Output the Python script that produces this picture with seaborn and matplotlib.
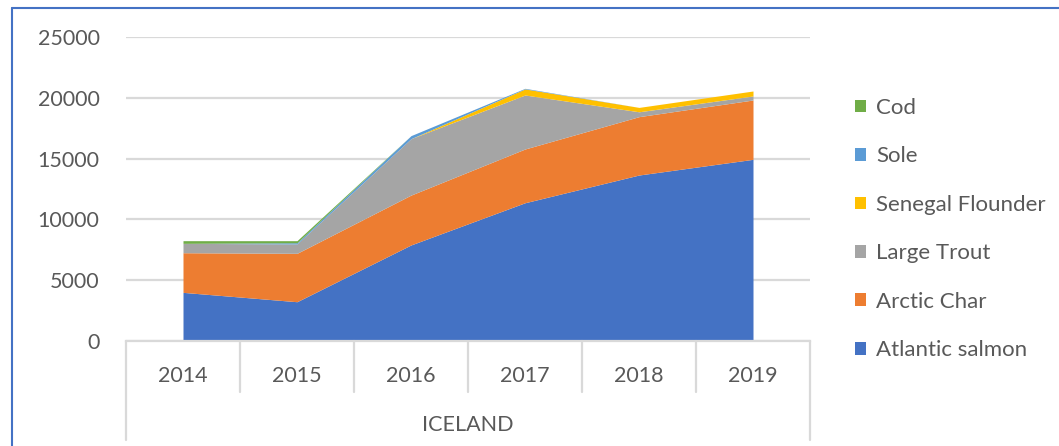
import numpy as np
import pandas as pd
import seaborn as sns
import matplotlib.pyplot as plt
from matplotlib.lines import Line2D
import matplotlib.transforms as mtransforms

# values
years = ["2014", "2015", "2016", "2017", "2018", "2019"]
atlantic_salmon = [4000, 3230, 7900, 11370, 13650, 14940]
arctic_char = [3260, 3980, 4100, 4420, 4800, 4880]
large_trout = [770, 770, 4640, 4440, 400, 330]
senegal_flounder = [0, 0, 0, 500, 360, 410]
sole = [0, 100, 250, 50, 0, 0]
cod = [220, 170, 0, 0, 0, 0]

series = ["Atlantic salmon", "Arctic Char", "Large Trout", "Senegal Flounder", "Sole", "Cod"]
colors = ["#4472C4", "#ED7D31", "#A5A5A5", "#FFC000", "#5B9BD5", "#70AD47"]

df = pd.DataFrame({
    "Atlantic salmon": atlantic_salmon,
    "Arctic Char": arctic_char,
    "Large Trout": large_trout,
    "Senegal Flounder": senegal_flounder,
    "Sole": sole,
    "Cod": cod,
}, index=years)

sns.set_style("white")
plt.rcParams["font.family"] = ["Lato", "DejaVu Sans"]
text_color = "#595959"
grid_color = "#D9D9D9"
fsize = 15.5

W, H = 1059, 446
fig = plt.figure(figsize=(W / 100, H / 100), dpi=100)
ax = fig.add_axes([126 / W, (H - 341) / H, (810 - 126) / W, (341 - 37) / H])

x = np.arange(len(years))
ax.stackplot(x, [df[s].values for s in series], colors=colors, labels=series,
             linewidth=0)

ax.set_xlim(-0.5, len(years) - 0.5)
ax.set_ylim(0, 25000)
ax.set_yticks(np.arange(0, 25001, 5000))
ax.yaxis.grid(True, color=grid_color, linewidth=1.6)
ax.set_axisbelow(True)
ax.set_xticks(x)
ax.set_xticklabels(years)
ax.tick_params(axis="both", length=0, labelsize=fsize, colors=text_color)
ax.tick_params(axis="y", pad=19)
ax.tick_params(axis="x", pad=18)
for side in ["top", "right", "left"]:
    ax.spines[side].set_visible(False)
ax.spines["bottom"].set_color(grid_color)
ax.spines["bottom"].set_linewidth(1.6)

# category separators below the axis (Excel multi-level axis)
trans = mtransforms.blended_transform_factory(ax.transData, ax.transAxes)
ax_h = 341 - 37
for i, xs in enumerate(np.arange(-0.5, len(years), 1.0)):
    outer = i == 0 or i == len(years)
    y_end = -(440 - 341) / ax_h if outer else -(392 - 341) / ax_h
    ax.add_line(Line2D([xs, xs], [0, y_end], transform=trans, color=grid_color,
                       linewidth=1.6, clip_on=False))
ax.text((len(years) - 1) / 2, -(425 - 341) / ax_h, "ICELAND", transform=trans,
        ha="center", va="center", fontsize=fsize, color=text_color)

handles, labels = ax.get_legend_handles_labels()
leg = fig.legend(handles[::-1], labels[::-1], loc="upper left",
                 bbox_to_anchor=(846 / W, 1 - 89 / H), frameon=False,
                 fontsize=16, labelcolor=text_color, handlelength=0.5,
                 handleheight=0.5, handletextpad=0.45, labelspacing=1.28,
                 borderaxespad=0)

# chart border (blue frame at top-left)
fig.add_artist(Line2D([12 / W, 12 / W], [0, 1 - 8 / H], color="#4472C4", linewidth=1.5))
fig.add_artist(Line2D([12 / W, 1], [1 - 8 / H, 1 - 8 / H], color="#4472C4", linewidth=1.5))

fig.savefig("out.png", dpi=100)
